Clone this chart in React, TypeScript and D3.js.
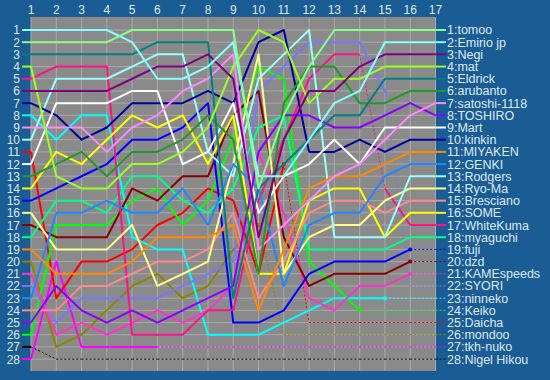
import React from "react";
import * as d3 from "d3";

const rounds = [1, 2, 3, 4, 5, 6, 7, 8, 9, 10, 11, 12, 13, 14, 15, 16, 17];
const rankTicks = [1, 2, 3, 4, 5, 6, 7, 8, 9, 10, 11, 12, 13, 14, 15, 16, 17, 18, 19, 20, 21, 22, 23, 24, 25, 26, 27, 28];

const names = [
  "tomoo", "Emirio jp", "Negi", "mat", "Eldrick", "arubanto", "satoshi-1118", "TOSHIRO",
  "Mart", "kinkin", "MIYAKEN", "GENKI", "Rodgers", "Ryo-Ma", "Bresciano", "SOME",
  "WhiteKuma", "myaguchi", "fuji", "dzd", "KAMEspeeds", "SYORI", "ninneko", "Keiko",
  "Daicha", "mondoo", "tkh-nuko", "Nigel Hikou",
];

const colors = [
  "#88ff88", "#88ffff", "#800080", "#99ff22", "#008080", "#229922", "#ff88ff", "#8800ff",
  "#ffffff", "#000099", "#ff8800", "#1e88ff", "#99ffff", "#ffff88", "#ff8888", "#ffff00",
  "#ff1188", "#00ff88", "#0000ff", "#880000", "#ff33cc", "#7777ff", "#00ffff", "#00ff00",
  "#ff0000", "#888800", "#ff00ff", "#000000",
];

const ranks: number[][] = [
  [2, 2, 2, 2, 1, 1, 1, 1, 1, 14, 8, 4, 1, 1, 1, 1, 1],
  [1, 1, 1, 1, 2, 5, 5, 4, 2, 13, 13, 10, 7, 6, 2, 2, 2],
  [6, 6, 6, 6, 5, 4, 4, 3, 5, 18, 10, 6, 6, 4, 3, 3, 3],
  [4, 13, 14, 14, 12, 12, 11, 9, 4, 1, 2, 7, 5, 5, 4, 4, 4],
  [3, 3, 3, 3, 3, 2, 2, 2, 23, 14, 12, 10, 8, 8, 5, 5, 5],
  [13, 12, 11, 13, 11, 11, 10, 8, 10, 21, 7, 4, 4, 7, 7, 6, 6],
  [9, 9, 9, 11, 9, 8, 6, 5, 3, 19, 17, 15, 13, 12, 10, 8, 7],
  [25, 22, 24, 25, 24, 25, 24, 23, 22, 11, 8, 8, 9, 9, 8, 7, 8],
  [12, 7, 7, 7, 6, 6, 12, 11, 7, 16, 13, 12, 10, 12, 9, 9, 9],
  [7, 8, 10, 9, 7, 7, 7, 6, 7, 2, 1, 11, 11, 10, 11, 10, 10],
  [19, 21, 21, 21, 20, 18, 18, 18, 17, 24, 19, 14, 13, 13, 12, 11, 11],
  [23, 16, 16, 15, 16, 16, 14, 17, 12, 14, 22, 17, 16, 16, 13, 12, 12],
  [10, 5, 5, 5, 4, 3, 3, 11, 13, 5, 3, 1, 18, 18, 18, 13, 13],
  [16, 19, 19, 19, 17, 22, 21, 20, 12, 3, 21, 18, 17, 17, 15, 14, 14],
  [24, 24, 22, 22, 21, 20, 20, 19, 16, 23, 20, 16, 15, 15, 16, 15, 15],
  [14, 11, 12, 10, 8, 9, 8, 12, 8, 21, 21, 15, 14, 14, 18, 16, 16],
  [5, 4, 4, 4, 26, 26, 26, 24, 24, 15, 10, 5, 3, 3, 14, 17, 17],
  [18, 15, 15, 16, 13, 13, 15, 16, 14, 9, 8, 19, 19, 19, 19, 18, 18],
  [15, 14, 13, 12, 10, 10, 9, 7, 25, 25, 24, 21, 20, 20, 20, 19, 19],
  [17, 18, 18, 18, 14, 15, 13, 13, 8, 6, 18, 22, 21, 21, 21, 20, 20],
  [21, 26, 25, 26, 25, 24, 25, 24, 22, 11, 16, 23, 24, 22, 22, 21, 21],
  [22, 25, 23, 23, 23, 23, 22, 21, 20, 6, 4, 2, 2, 2, 6, 22, 22],
  [8, 10, 8, 8, 18, 19, 19, 26, 26, 26, 25, 24, 23, 23, 23, 23, 23],
  [26, 17, 17, 17, 15, 14, 17, 15, 10, 4, 5, 20, 22, 24, 24, 24, 24],
  [11, 23, 20, 20, 19, 17, 16, 14, 15, 21, 12, 25, 25, 25, 25, 25, 25],
  [20, 27, 26, 24, 22, 21, 23, 22, 19, 17, 26, 26, 26, 26, 26, 26, 26],
  [28, 20, 27, 27, 27, 27, 27, 27, 27, 27, 27, 27, 27, 27, 27, 27, 27],
  [27, 28, 28, 28, 28, 28, 28, 28, 28, 28, 28, 28, 28, 28, 28, 28, 28],
];

// last round played (solid line ends there, dotted afterwards)
const lastRound = [17, 17, 17, 17, 17, 17, 17, 17, 17, 17, 17, 17, 17, 17, 17, 17, 17, 17, 16, 16, 16, 15, 15, 14, 11, 10, 6, 1];
// extra dotted segments: [seriesIndex, startRound]
const dottedSegments: [number, number][] = [[16, 14]];

const x = d3.scaleLinear().domain([1, 17]).range([31, 435.5]);
const y = d3.scaleLinear().domain([0, 29]).range([17.8, 371.3]);

const BG = "#1a5c94";
const PLOT = "#8a8a8a";
const GRID = "#a9a9a9";
const TXT = "#dfe9f2";

export default function App() {
  const line = d3.line<[number, number]>().x((d) => x(d[0])).y((d) => y(d[1]));
  const series = names.map((name, i) => {
    const last = lastRound[i];
    const extra = new Set(dottedSegments.filter((d) => d[0] === i).map((d) => d[1]));
    const solidPieces: [number, number][][] = [];
    const dottedPieces: [number, number][][] = [];
    let cur: [number, number][] = [];
    for (let r = 1; r < 17; r++) {
      const seg: [number, number][] = [[r, ranks[i][r - 1]], [r + 1, ranks[i][r]]];
      const dotted = r >= last || extra.has(r);
      if (dotted) {
        if (cur.length) { solidPieces.push(cur); cur = []; }
        dottedPieces.push(seg);
      } else {
        if (!cur.length) cur.push(seg[0]);
        cur.push(seg[1]);
      }
    }
    if (cur.length) solidPieces.push(cur);
    return { name, i, last, solidPieces, dottedPieces };
  });

  const order = [...series].reverse();

  return (
    <div style={{ position: "absolute", left: 0, top: 0 }}>
      <svg width={550} height={380} style={{ display: "block", fontFamily: "Arial, 'Liberation Sans', sans-serif" }}>
        <rect x={0} y={0} width={550} height={380} fill={BG} />
        <rect x={x(1)} y={17} width={x(17) - x(1)} height={371 - 17} fill={PLOT} />
        {rounds.map((r) => (
          <line key={"vg" + r} x1={x(r)} x2={x(r)} y1={17} y2={371} stroke={GRID} strokeWidth={1} />
        ))}
        {rankTicks.map((k) => (
          <line key={"hg" + k} x1={x(1)} x2={x(17)} y1={y(k)} y2={y(k)} stroke={GRID} strokeWidth={1} />
        ))}
        {rounds.map((r) => (
          <text key={"tx" + r} x={x(r)} y={14} fill={TXT} fontSize={12} textAnchor="middle">{r}</text>
        ))}
        {rankTicks.map((k) => (
          <text key={"ty" + k} x={20} y={y(k) + 4.5} fill={TXT} fontSize={12} textAnchor="end">{k}</text>
        ))}
        {order.map((s) => (
          <g key={"s" + s.i}>
            {s.dottedPieces.map((p, j) => (
              <path key={"d" + j} d={line(p) || ""} fill="none" stroke={colors[s.i]} strokeWidth={1} strokeDasharray="2,2" />
            ))}
            {s.solidPieces.map((p, j) => (
              <path key={"p" + j} d={line(p) || ""} fill="none" stroke={colors[s.i]} strokeWidth={2} strokeLinejoin="round" />
            ))}
            {s.last < 17 && s.last >= 10 && (
              <circle cx={x(s.last)} cy={y(ranks[s.i][s.last - 1])} r={2} fill={colors[s.i]} />
            )}
            <line x1={22} x2={x(1)} y1={y(ranks[s.i][0])} y2={y(ranks[s.i][0])} stroke={colors[s.i]} strokeWidth={2} />
            <line x1={x(17)} x2={446} y1={y(ranks[s.i][16])} y2={y(ranks[s.i][16])} stroke={colors[s.i]}
              strokeWidth={s.last < 17 ? 1 : 2} strokeDasharray={s.last < 17 ? "2,2" : undefined} />
            <text x={447} y={y(ranks[s.i][16]) + 4.5} fill={TXT} fontSize={12.5}>{`${s.i + 1}:${s.name}`}</text>
          </g>
        ))}
      </svg>
    </div>
  );
}
